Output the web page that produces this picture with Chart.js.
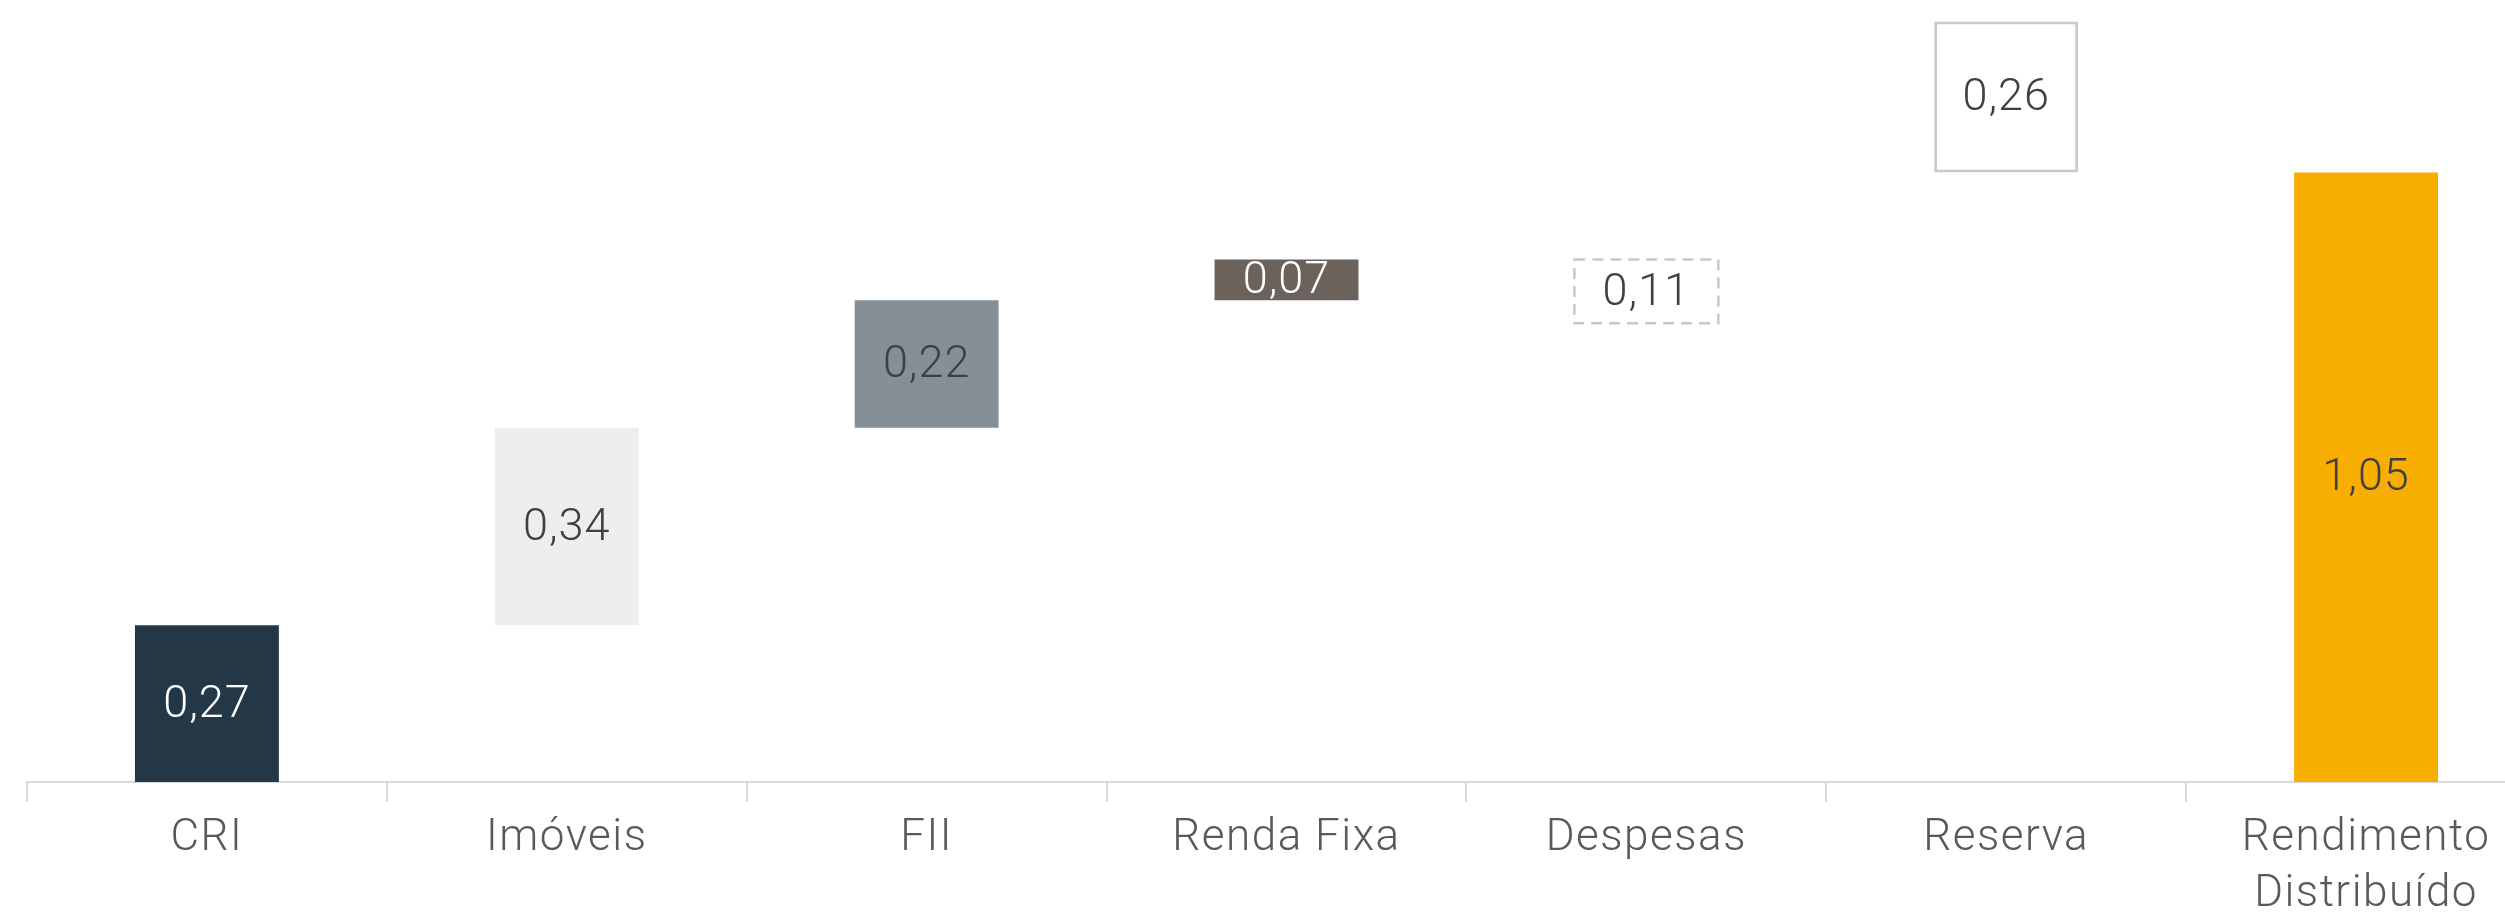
<!DOCTYPE html>
<html lang="pt">
<head>
    <meta charset="UTF-8">
    <title>Composição do Rendimento</title>
    <style>
        html, body {
            margin: 0;
            padding: 0;
            background: #ffffff;
            overflow: hidden;
        }
        .wrap {
            position: relative;
            width: 2546px;
            height: 912px;
        }
    </style>
</head>
<body>
    <div class="wrap">
        <canvas id="chart"></canvas>
    </div>

    <script src="https://cdn.jsdelivr.net/npm/chart.js"></script>
    <script>
const categories = ['CRI', 'Imóveis', 'FII', 'Renda Fixa', 'Despesas', 'Reserva', ['Rendimento', 'Distribuído']];
const values = [0.27, 0.34, 0.22, 0.07, -0.11, 0.26, 1.05];
const bases = [0, 0.27, 0.61, 0.83, 0.90, 1.05, 0];

const fills = ['#243746', '#efeeec', '#858f98', '#6b625b', 'rgba(0,0,0,0)', '#ffffff', '#f8ae00'];
const borders = ['#243746', '#efeeec', '#858f98', '#6b625b', 'rgba(0,0,0,0)', '#c9c9c9', '#f8ae00'];
const borderWidths = [0, 0, 0, 0, 0, 3, 0];
const labelColors = ['#ffffff', '#404040', '#404040', '#ffffff', '#404040', '#404040', '#404040'];

const fontFamily = 'Roboto, "Open Sans", sans-serif';

// barras flutuantes [início, fim]
const ranges = values.map((v, i) => [bases[i], bases[i] + v]);

// espaçamento entre letras parecido com a fonte original
const spacing = {
    id: 'spacing',
    beforeDraw(chart) {
        chart.ctx.letterSpacing = '1.5px';
    }
};

// desenha o valor no centro de cada barra
const valueLabels = {
    id: 'valueLabels',
    afterDatasetsDraw(chart) {
        const ctx = chart.ctx;
        const meta = chart.getDatasetMeta(0);
        ctx.save();
        ctx.letterSpacing = '1px';
        ctx.font = '300 45px ' + fontFamily;
        ctx.textAlign = 'center';
        ctx.textBaseline = 'middle';
        meta.data.forEach((bar, i) => {
            const cy = (bar.y + bar.base) / 2;
            ctx.fillStyle = labelColors[i];
            ctx.fillText(Math.abs(values[i]).toFixed(2).replace('.', ','), bar.x, cy + 2);
        });
        ctx.restore();
    }
};

// contorno tracejado para as despesas
const dashedBox = {
    id: 'dashedBox',
    afterDatasetsDraw(chart) {
        const ctx = chart.ctx;
        const bar = chart.getDatasetMeta(0).data[4];
        const w = bar.width;
        const top = Math.min(bar.y, bar.base);
        const h = Math.abs(bar.base - bar.y);
        ctx.save();
        ctx.strokeStyle = '#c9c9c9';
        ctx.lineWidth = 2.5;
        ctx.setLineDash([11, 7]);
        ctx.strokeRect(bar.x - w / 2, top, w, h);
        ctx.restore();
    }
};

new Chart(document.getElementById('chart'), {
    type: 'bar',
    data: {
        labels: categories,
        datasets: [{
            data: ranges,
            backgroundColor: fills,
            borderColor: borders,
            borderWidth: borderWidths,
            borderSkipped: false,
            barPercentage: 0.4,
            categoryPercentage: 1
        }]
    },
    options: {
        responsive: true,
        maintainAspectRatio: false,
        animation: false,
        layout: {
            padding: { left: 27, right: 0, top: 0, bottom: 0 }
        },
        plugins: {
            legend: { display: false },
            tooltip: { enabled: false }
        },
        scales: {
            y: {
                display: false,
                min: 0,
                max: 1.347
            },
            x: {
                grid: {
                    offset: true,
                    drawOnChartArea: false,
                    drawTicks: true,
                    tickLength: 20,
                    color: '#d9d9d9',
                    lineWidth: 2
                },
                border: {
                    color: '#d9d9d9',
                    width: 2
                },
                ticks: {
                    color: '#595959',
                    padding: 9,
                    maxRotation: 0,
                    font: { family: fontFamily, size: 44, weight: 300, lineHeight: 1.27 }
                },
                afterFit(scale) {
                    scale.height = 130;
                }
            }
        }
    },
    plugins: [spacing, valueLabels, dashedBox]
});
    </script>
</body>
</html>
